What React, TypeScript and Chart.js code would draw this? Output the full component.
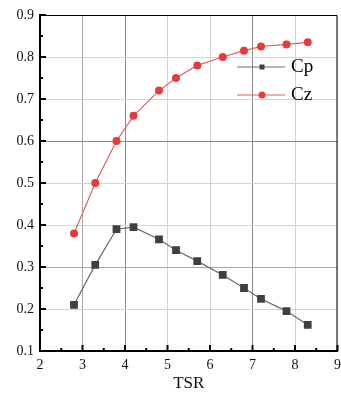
import React, { useEffect, useRef } from "react";
import { Chart, registerables } from "chart.js";

Chart.register(...registerables);

const tsr = [2.8, 3.3, 3.8, 4.2, 4.8, 5.2, 5.7, 6.3, 6.8, 7.2, 7.8, 8.3];
const cpValues = [0.21, 0.305, 0.39, 0.395, 0.366, 0.34, 0.314, 0.281, 0.25, 0.224, 0.195, 0.162];
const czValues = [0.38, 0.5, 0.6, 0.66, 0.72, 0.75, 0.78, 0.8, 0.815, 0.825, 0.83, 0.835];
const seriesNames = ["Cp", "Cz"];
const xTitle = "TSR";

const FONT = "'Liberation Serif', 'DejaVu Serif', serif";
const CANVAS_W = 347;

const decorPlugin = {
  id: "decor",
  afterDraw(chart: any) {
    const ctx = chart.ctx;
    const { left, right, top, bottom } = chart.chartArea;
    const xs = chart.scales.x;
    const ys = chart.scales.y;
    ctx.save();
    ctx.strokeStyle = "#000";
    ctx.lineWidth = 1;
    ctx.beginPath();
    ctx.moveTo(left, top + 0.5);
    ctx.lineTo(right - 0.5, top + 0.5);
    ctx.lineTo(right - 0.5, bottom);
    ctx.stroke();
    ctx.lineWidth = 2;
    for (let v = 2; v <= 9.001; v += 0.5) {
      const px = xs.getPixelForValue(v);
      const major = Math.abs(v - Math.round(v)) < 1e-6;
      const len = major ? 6 : 3;
      ctx.beginPath();
      ctx.moveTo(px, bottom);
      ctx.lineTo(px, bottom - len);
      ctx.stroke();
    }
    for (let v = 0.1; v <= 0.9001; v += 0.05) {
      const py = ys.getPixelForValue(v);
      const major = Math.abs(v * 10 - Math.round(v * 10)) < 1e-6;
      const len = major ? 6 : 3;
      ctx.beginPath();
      ctx.moveTo(left, py);
      ctx.lineTo(left + len, py);
      ctx.stroke();
    }
    const items = chart.data.datasets;
    const lx0 = 237, lx1 = 285, ly0 = 67, dy = 28;
    items.forEach((ds: any, i: number) => {
      const y = ly0 + i * dy;
      ctx.strokeStyle = ds.borderColor;
      ctx.lineWidth = 1;
      ctx.beginPath();
      ctx.moveTo(lx0, y);
      ctx.lineTo(lx1, y);
      ctx.stroke();
      ctx.fillStyle = ds.pointBackgroundColor;
      const mx = 262;
      if (ds.pointStyle === "rect") {
        ctx.fillRect(mx - 2.5, y - 2.5, 5, 5);
      } else {
        ctx.beginPath();
        ctx.arc(mx, y, 3.5, 0, Math.PI * 2);
        ctx.fill();
      }
      ctx.fillStyle = "#000";
      ctx.font = "19px " + FONT;
      ctx.textBaseline = "middle";
      ctx.textAlign = "left";
      ctx.fillText(ds.label, 291, y);
    });
    ctx.restore();
  },
};

export default function App() {
  const ref = useRef<HTMLCanvasElement>(null);
  useEffect(() => {
    document.body.style.margin = "0";
    const canvas = ref.current!;
    const chart = new Chart(canvas, {
      type: "line",
      data: {
        datasets: [
          {
            label: seriesNames[0],
            data: tsr.map((x, i) => ({ x, y: cpValues[i] })),
            borderColor: "#6a6a6a",
            borderWidth: 1.2,
            pointStyle: "rect",
            pointRadius: 5.5,
            pointBackgroundColor: "#3f3f3f",
            pointBorderColor: "#3f3f3f",
            pointBorderWidth: 0,
            tension: 0,
          },
          {
            label: seriesNames[1],
            data: tsr.map((x, i) => ({ x, y: czValues[i] })),
            borderColor: "#e06060",
            borderWidth: 1.2,
            pointStyle: "circle",
            pointRadius: 4,
            pointBackgroundColor: "#e83a3c",
            pointBorderColor: "#e83a3c",
            pointBorderWidth: 0,
            tension: 0,
          },
        ],
      },
      options: {
        animation: false,
        responsive: false,
        layout: { padding: { top: 15, right: 0, left: 0, bottom: 0 } },
        plugins: { legend: { display: false }, tooltip: { enabled: false } },
        scales: {
          x: {
            type: "linear",
            min: 2,
            max: 9,
            afterFit: (s: any) => { s.height = 43; },
            ticks: {
              stepSize: 1,
              padding: 6,
              color: "#111",
              font: { family: FONT, size: 14 },
            },
            grid: {
              drawTicks: false,
              color: (c: any) => {
                const v = c.tick && c.tick.value;
                if (v === 4 || v === 7) return "#8a8a8a";
                if (v === 3) return "#a8a8a8";
                return "#d4d4d4";
              },
              lineWidth: 1,
            },
            border: { display: true, color: "#000", width: 2 },
            title: {
              display: true,
              text: xTitle,
              color: "#111",
              font: { family: FONT, size: 17 },
              padding: { top: 0, bottom: 0 },
            },
          },
          y: {
            type: "linear",
            min: 0.1,
            max: 0.9,
            afterFit: (s: any) => { s.width = 40; },
            ticks: {
              stepSize: 0.1,
              padding: 6,
              color: "#111",
              font: { family: FONT, size: 14 },
              callback: (v: any) => Number(v).toFixed(1),
            },
            grid: {
              drawTicks: false,
              color: (c: any) => {
                const v = c.tick ? Math.round(c.tick.value * 10) : 0;
                if (v === 6) return "#8a8a8a";
                if (v === 3) return "#a8a8a8";
                return "#d4d4d4";
              },
              lineWidth: 1,
            },
            border: { display: true, color: "#000", width: 2 },
          },
        },
      },
      plugins: [decorPlugin],
    } as any);
    return () => chart.destroy();
  }, []);
  return (
    <div style={{ position: "relative", width: 341, height: 394, background: "#fff", overflow: "hidden" }}>
      <canvas ref={ref} width={CANVAS_W} height={394} style={{ display: "block", width: CANVAS_W, height: 394 }} />
    </div>
  );
}
